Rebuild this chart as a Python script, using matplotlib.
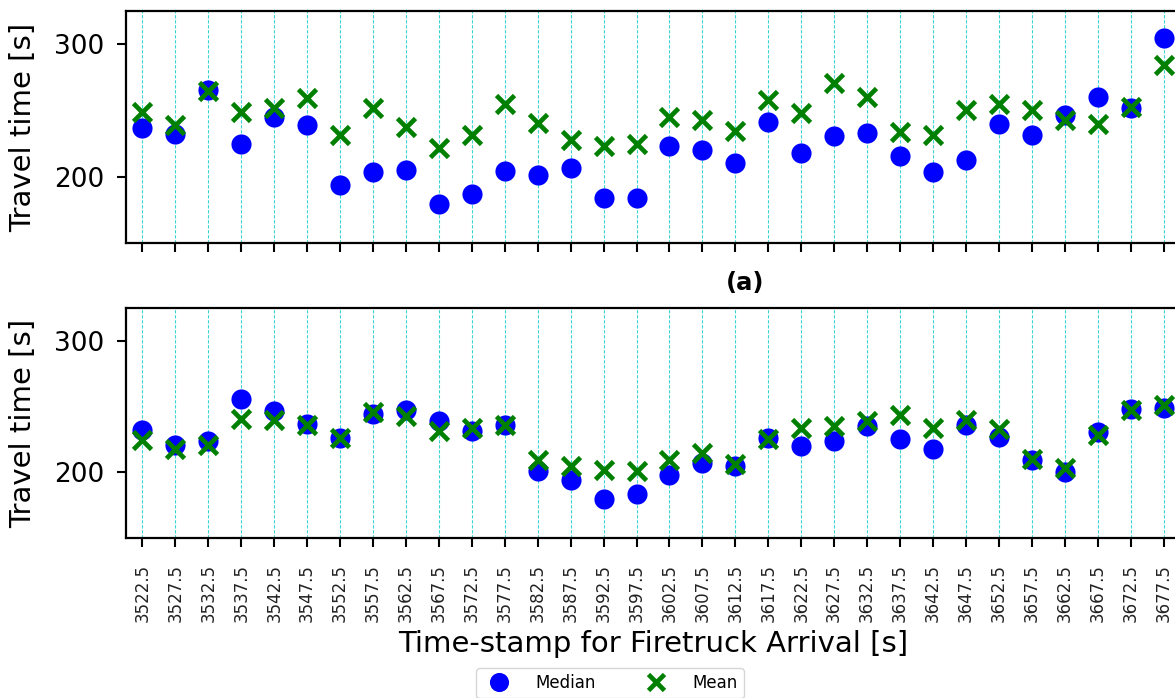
import matplotlib
matplotlib.use("Agg")
import matplotlib.pyplot as plt
import numpy as np

# Arrival time-stamps (bin centres) [s]
timestamps = [3522.5 + 5 * k for k in range(32)]

# Panel (a)
median_a = [236.6, 232.1, 265.4, 224.8, 245.3, 239.1, 193.5, 203.2,
            205.3, 179.7, 187.2, 204.0, 201.5, 206.5, 184.0, 184.0,
            222.8, 220.3, 210.3, 241.6, 217.8, 230.8, 233.3, 215.3,
            203.5, 212.3, 239.6, 231.6, 246.6, 260.4, 251.7, 305.0]
mean_a = [249.1, 239.1, 264.9, 249.1, 251.7, 259.2, 231.6, 251.7,
          237.8, 221.6, 231.6, 254.9, 240.4, 227.8, 222.8, 224.8,
          245.3, 242.9, 234.8, 257.9, 247.9, 270.5, 260.4, 234.1,
          231.6, 250.4, 254.9, 250.4, 242.9, 239.8, 252.9, 284.2]

# Panel (b)
median_b = [232.4, 221.0, 223.5, 256.0, 246.3, 237.0, 226.1, 244.6,
            247.6, 238.7, 231.1, 236.2, 200.8, 194.5, 179.8, 183.1,
            198.3, 207.1, 204.6, 226.1, 219.7, 223.5, 235.5, 225.4,
            217.8, 236.2, 226.9, 209.6, 200.0, 230.4, 248.1, 248.9]
mean_b = [224.8, 217.8, 221.0, 240.5, 239.5, 236.2, 226.1, 245.6,
          242.5, 231.1, 233.7, 236.2, 209.6, 204.6, 202.0, 200.8,
          209.6, 214.7, 206.6, 225.0, 233.7, 235.5, 238.7, 243.8,
          233.7, 240.0, 233.0, 210.0, 203.3, 228.6, 247.1, 251.4]

tick_labels = [f"{t:.1f}" for t in timestamps]

W, H = 1175, 698
fig = plt.figure(figsize=(W / 100, H / 100), dpi=100)

def px_axes(left, top, right, bottom):
    return fig.add_axes([left / W, 1 - bottom / H, (right - left) / W, (bottom - top) / H])

ax_a = px_axes(126, 11, 1180, 243)
ax_b = px_axes(126, 308, 1180, 538)

def draw(ax, med, mean, show_labels):
    ax.set_axisbelow(True)
    ax.grid(axis="x", color="#3fd4d4", linestyle=(0, (3, 1.5)), linewidth=0.8)
    ax.grid(axis="y", visible=False)
    h1, = ax.plot(timestamps, med, linestyle="none", marker="o", markersize=14.5,
                  color="blue", markeredgewidth=0, label="Median")
    h2, = ax.plot(timestamps, mean, linestyle="none", marker="x", markersize=12.5,
                  color="green", markeredgewidth=3.4, label="Mean")
    ax.set_xlim(3520, 3680)
    ax.set_ylim(150, 325)
    ax.set_xticks(timestamps)
    ax.set_yticks([200, 300])
    ax.tick_params(axis="both", direction="out", length=6.5, width=1.5, labelsize=19)
    ax.tick_params(axis="y", pad=9)
    ax.tick_params(axis="x", labelsize=12, labelrotation=90, pad=12)
    if show_labels:
        ax.set_xticklabels(tick_labels, color="#222222")
    else:
        ax.set_xticklabels([])
    ax.set_ylabel("Travel time [s]", fontsize=21, labelpad=12)
    for s in ax.spines.values():
        s.set_linewidth(1.6)
    return h1, h2

draw(ax_a, median_a, mean_a, False)
h1, h2 = draw(ax_b, median_b, mean_b, True)
ax_b.set_xlabel("Time-stamp for Firetruck Arrival [s]", fontsize=21, labelpad=6)

fig.text(745 / W, 1 - 283 / H, "(a)", fontsize=17.5, fontweight="bold",
         ha="center", va="center")

fig.legend(handles=[h1, h2], loc="upper center", ncol=2,
           bbox_to_anchor=(610 / W, 1 - 660 / H), fontsize=12,
           handletextpad=1.2, columnspacing=2.6, borderpad=0.35,
           frameon=True, fancybox=True, edgecolor="#cccccc", markerscale=0.95)

fig.savefig("out.png", dpi=100)
